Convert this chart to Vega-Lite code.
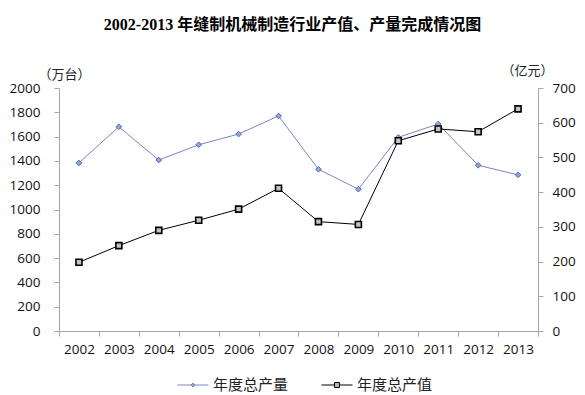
{
  "$schema": "https://vega.github.io/schema/vega-lite/v6.json",
  "autosize": "none",
  "width": 479,
  "height": 243,
  "padding": {"left": 59, "top": 88, "right": 47, "bottom": 64},
  "background": "white",
  "title": {
    "text": "2002-2013 年缝制机械制造行业产值、产量完成情况图",
    "font": "Liberation Serif, Noto Sans CJK SC",
    "fontSize": 16,
    "fontWeight": "bold",
    "color": "#000000",
    "anchor": "middle",
    "frame": "group",
    "dx": -6,
    "offset": 31
  },
  "config": {
    "view": {"stroke": null},
    "axis": {
      "labelFont": "Open Sans",
      "labelFontSize": 13.5,
      "labelColor": "#111111",
      "domainColor": "#a6a6a6",
      "tickColor": "#a6a6a6",
      "tickSize": 5,
      "grid": false,
      "titleFont": "Noto Sans CJK SC",
      "titleFontSize": 13,
      "titleFontWeight": "normal",
      "titleColor": "#222222"
    }
  },
  "data": {
    "values": [
      {"year": "2002", "q": 1383, "v": 198},
      {"year": "2003", "q": 1681, "v": 246},
      {"year": "2004", "q": 1407, "v": 290},
      {"year": "2005", "q": 1533, "v": 319},
      {"year": "2006", "q": 1621, "v": 351},
      {"year": "2007", "q": 1770, "v": 411},
      {"year": "2008", "q": 1331, "v": 315},
      {"year": "2009", "q": 1167, "v": 307},
      {"year": "2010", "q": 1594, "v": 548},
      {"year": "2011", "q": 1704, "v": 582},
      {"year": "2012", "q": 1364, "v": 574},
      {"year": "2013", "q": 1285, "v": 640}
    ]
  },
  "encoding": {
    "x": {
      "field": "year",
      "type": "ordinal",
      "bandPosition": 0.5,
      "scale": {"type": "band", "paddingInner": 0, "paddingOuter": 0},
      "axis": {"title": null, "labelAngle": 0, "tickBand": "extent", "labelPadding": 6}
    }
  },
  "layer": [
    {
      "encoding": {
        "y": {
          "field": "q",
          "type": "quantitative",
          "scale": {"domain": [0, 2000], "nice": false},
          "axis": {
            "orient": "left",
            "format": "d",
            "values": [0, 200, 400, 600, 800, 1000, 1200, 1400, 1600, 1800, 2000],
            "labelPadding": 14,
            "title": "（万台）",
            "titleAngle": 0,
            "titleAlign": "center",
            "titleBaseline": "middle",
            "titleX": 5,
            "titleY": -14
          }
        }
      },
      "layer": [
        {
          "mark": {"type": "line", "color": "#8a8fd0", "strokeWidth": 1},
          "encoding": {
            "color": {
              "datum": "年度总产量",
              "scale": {"domain": ["年度总产量", "年度总产值"], "range": ["#7b83c6", "#000000"]},
              "legend": {
                "title": null,
                "orient": "none",
                "legendX": 118,
                "legendY": 281,
                "direction": "horizontal",
                "columnPadding": 30,
                "symbolSize": 961,
                "labelFont": "Noto Sans CJK SC",
                "labelFontSize": 15,
                "labelColor": "#222222",
                "labelOffset": 4,
                "encode": {
                  "symbols": {
                    "update": {
                      "shape": {"signal": "datum.value === '年度总产量' ? 'M-1,0H1M0,-0.13L0.13,0L0,0.13L-0.13,0Z' : 'M-1,0H-0.16M0.16,0H1M-0.16,-0.16H0.16V0.16H-0.16Z'"},
                      "fill": {"signal": "datum.value === '年度总产量' ? '#a9bff0' : '#b8b8b8'"},
                      "stroke": {"signal": "datum.value === '年度总产量' ? '#7b83c6' : '#000000'"},
                      "strokeWidth": {"value": 1},
                      "opacity": {"value": 1}
                    }
                  }
                }
              }
            }
          }
        },
        {
          "mark": {"type": "point", "shape": "diamond", "size": 32, "filled": true, "fill": "#8ea3df", "stroke": "#5b6ab3", "strokeWidth": 1, "opacity": 1}
        }
      ]
    },
    {
      "encoding": {
        "y": {
          "field": "v",
          "type": "quantitative",
          "scale": {"domain": [0, 700], "nice": false},
          "axis": {
            "orient": "right",
            "format": "d",
            "values": [0, 100, 200, 300, 400, 500, 600, 700],
            "labelPadding": 9,
            "title": "（亿元）",
            "titleAngle": 0,
            "titleAlign": "center",
            "titleBaseline": "middle",
            "titleX": -11,
            "titleY": -18
          }
        }
      },
      "layer": [
        {
          "mark": {"type": "line", "strokeWidth": 1},
          "encoding": {"color": {"datum": "年度总产值"}}
        },
        {
          "mark": {"type": "point", "shape": "square", "size": 36, "filled": true, "fill": "#c4c4c4", "stroke": "#000000", "strokeWidth": 1.6, "opacity": 1}
        }
      ]
    }
  ],
  "resolve": {"scale": {"y": "independent"}}
}
